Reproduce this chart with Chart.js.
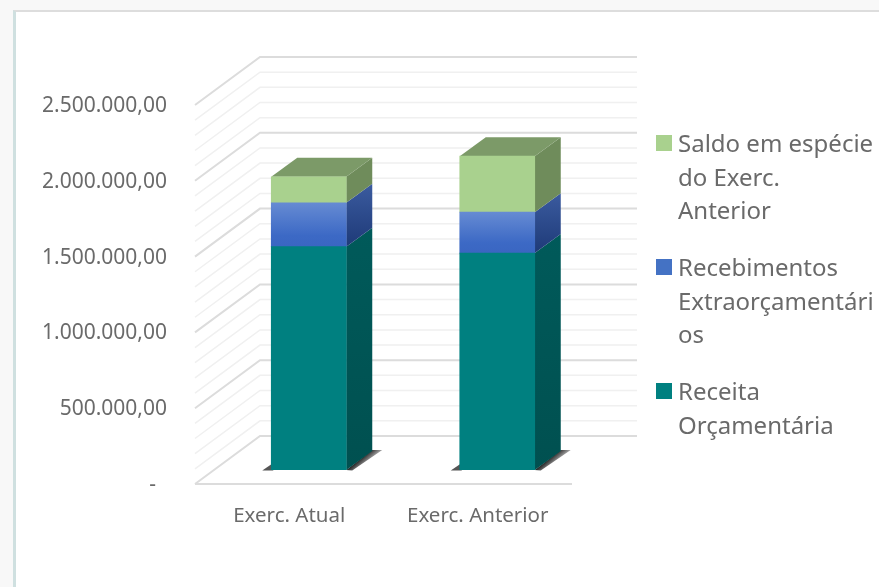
<!DOCTYPE html>
<html lang="pt">
<head>
<meta charset="utf-8">
<title>Receitas por exercício</title>
<script src="https://cdn.jsdelivr.net/npm/chart.js@4"></script>
<style>
    html, body { margin: 0; padding: 0; background: #f8f8f8; }
    #card {
        position: absolute;
        left: 13px;
        top: 10px;
        width: 866px;
        height: 577px;
        box-sizing: border-box;
        background: #fff;
        border-top: 2px solid #dddddd;
        border-left: 3px solid #cfe0e0;
    }
    #chart { position: absolute; left: 0; top: 0; }
</style>
</head>
<body>
<div id="card"></div>
<canvas id="chart" width="879" height="587"></canvas>
<script>
const categories = ["Exerc. Atual", "Exerc. Anterior"];
const receita = [1473000, 1431000];
const recebimentos = [290000, 270000];
const saldo = [171500, 369000];
const legendLines = [
    ["Saldo em espécie", "do Exerc.", "Anterior"],
    ["Recebimentos", "Extraorçamentári", "os"],
    ["Receita", "Orçamentária"],
];

const FONT = '"Noto Sans", sans-serif';
const TEXT_COLOR = "#6a6a6a";

// how far the wall sits behind the front plane, and the bars inside that depth
const WALL = { dx: 65, dy: 48 };
const BAR_OFFSET = { dx: 19.5, dy: 14 };
const BAR_DEPTH = { dx: 26, dy: 19 };

// face colours per dataset: side top/bottom, and the lid for the top segment
const FACES = [
    { sideTop: "#005a5a", sideBottom: "#005050" },
    { sideTop: "#3b5b9f", sideBottom: "#1e3a78" },
    { sideTop: "#6f8c5b", sideBottom: "#6f8c5b", lid: "#7c9a68" },
];

// blue front face fades within its own segment
function blueFront(context) {
    const chart = context.chart;
    const y = chart.scales.y;
    if (!chart.chartArea || !y) return "#4472c4";
    const i = context.dataIndex;
    const grad = chart.ctx.createLinearGradient(0, y.getPixelForValue(receita[i] + recebimentos[i]), 0, y.getPixelForValue(receita[i]));
    grad.addColorStop(0, "#668bd3");
    grad.addColorStop(0.75, "#3c69c5");
    grad.addColorStop(1, "#3a66c2");
    return grad;
}

function polygon(ctx, points, fill) {
    ctx.beginPath();
    points.forEach(([x, y], i) => (i ? ctx.lineTo(x, y) : ctx.moveTo(x, y)));
    ctx.closePath();
    ctx.fillStyle = fill;
    ctx.fill();
}

// back wall, side wall and floor
const wallPlugin = {
    id: "wall",
    beforeDatasetsDraw(chart) {
        const { ctx, chartArea, scales } = chart;
        const { left, right } = chartArea;
        for (let v = 0; v <= scales.y.max; v += 100000) {
            const y = scales.y.getPixelForValue(v);
            const major = v % 500000 === 0;
            ctx.beginPath();
            ctx.moveTo(left, y);
            ctx.lineTo(left + WALL.dx, y - WALL.dy);
            ctx.lineTo(right + WALL.dx, y - WALL.dy);
            ctx.lineWidth = major ? 2 : 1.5;
            ctx.strokeStyle = major ? "#dcdcdc" : "#f0f0f0";
            ctx.stroke();
        }
        ctx.beginPath();
        ctx.moveTo(left, chartArea.bottom);
        ctx.lineTo(right, chartArea.bottom);
        ctx.lineWidth = 2;
        ctx.strokeStyle = "#dcdcdc";
        ctx.stroke();
    },
};

// sides, lids and floor shadows; the bars themselves stay library elements,
// so the shift set here stays on until the datasets are done
const bars3dPlugin = {
    id: "bars3d",
    beforeDatasetsDraw(chart) {
        const { ctx } = chart;
        ctx.save();
        ctx.translate(BAR_OFFSET.dx, -BAR_OFFSET.dy);
        const bottom = chart.getDatasetMeta(0).data;
        bottom.forEach((el) => {
            const l = el.x - el.width / 2;
            const r = el.x + el.width / 2;
            const b = el.base;
            // shadow darkest against the bar, fading across the strip
            const shade = ctx.createLinearGradient(r + 13, b - 10, r + 19, b - 3);
            shade.addColorStop(0, "#2a2a2a");
            shade.addColorStop(1, "#c4c4c4");
            polygon(ctx, [[r, b], [r + 26, b - 20], [r + 36, b - 20], [r + 6, b + 0.5]], shade);
            polygon(ctx, [[l - 9, b + 0.5], [l + 2, b + 0.5], [l + 2, b - 7]], "#555555");
        });
        FACES.forEach((face, d) => {
            chart.getDatasetMeta(d).data.forEach((el) => {
                const l = el.x - el.width / 2;
                const r = el.x + el.width / 2;
                const grad = ctx.createLinearGradient(0, el.y - BAR_DEPTH.dy, 0, el.base);
                grad.addColorStop(0, face.sideTop);
                grad.addColorStop(1, face.sideBottom);
                polygon(ctx, [
                    [r, el.y],
                    [r + BAR_DEPTH.dx, el.y - BAR_DEPTH.dy],
                    [r + BAR_DEPTH.dx, el.base - BAR_DEPTH.dy],
                    [r, el.base],
                ], grad);
                if (face.lid) {
                    polygon(ctx, [
                        [l, el.y],
                        [l + BAR_DEPTH.dx, el.y - BAR_DEPTH.dy],
                        [r + BAR_DEPTH.dx, el.y - BAR_DEPTH.dy],
                        [r, el.y],
                    ], face.lid);
                }
            });
        });
    },
    afterDatasetsDraw(chart) {
        chart.ctx.restore();
    },
};

// wrapped legend on the right, top entry first
const sideLegendPlugin = {
    id: "sideLegend",
    afterDraw(chart) {
        const { ctx } = chart;
        const colors = ["#a9d18e", "#4472c4", "#008080"];
        const firstBaseline = [152, 276, 400];
        ctx.save();
        ctx.font = "24px " + FONT;
        ctx.textBaseline = "alphabetic";
        ctx.textAlign = "left";
        legendLines.forEach((lines, i) => {
            ctx.fillStyle = colors[i];
            ctx.fillRect(656, firstBaseline[i] - 17, 16, 16);
            ctx.fillStyle = TEXT_COLOR;
            lines.forEach((line, n) => ctx.fillText(line, 678, firstBaseline[i] + n * 33.5));
        });
        ctx.restore();
    },
};

new Chart(document.getElementById("chart"), {
    type: "bar",
    data: {
        labels: categories,
        datasets: [
            { label: "Receita Orçamentária", data: receita, backgroundColor: "#008080" },
            { label: "Recebimentos Extraorçamentários", data: recebimentos, backgroundColor: blueFront },
            { label: "Saldo em espécie do Exerc. Anterior", data: saldo, backgroundColor: "#a9d18e" },
        ],
    },
    plugins: [wallPlugin, bars3dPlugin, sideLegendPlugin],
    options: {
        responsive: false,
        animation: false,
        barThickness: 75,
        layout: {
            autoPadding: false,
            padding: { top: 105, right: 307, left: 0, bottom: 0 },
        },
        plugins: {
            legend: { display: false },
            tooltip: { enabled: false },
        },
        scales: {
            x: {
                stacked: true,
                grid: { display: false },
                border: { display: false },
                ticks: { color: TEXT_COLOR, font: { family: FONT, size: 20.5 }, padding: 12, maxRotation: 0 },
                afterFit(scale) {
                    scale.height = 103;
                },
            },
            y: {
                stacked: true,
                min: 0,
                max: 2500000,
                grid: { display: false },
                border: { display: false },
                ticks: {
                    stepSize: 500000,
                    color: TEXT_COLOR,
                    font: { family: FONT, size: 21 },
                    padding: 20,
                    labelOffset: 1,
                    // accounting style: zero shows as a dash set in from the right
                    callback: (v) =>
                        v === 0
                            ? "-\u00a0\u00a0"
                            : v.toLocaleString("pt-BR", { minimumFractionDigits: 2, maximumFractionDigits: 2 }),
                },
                afterFit(scale) {
                    scale.width = 195;
                },
            },
        },
    },
});
</script>
</body>
</html>
